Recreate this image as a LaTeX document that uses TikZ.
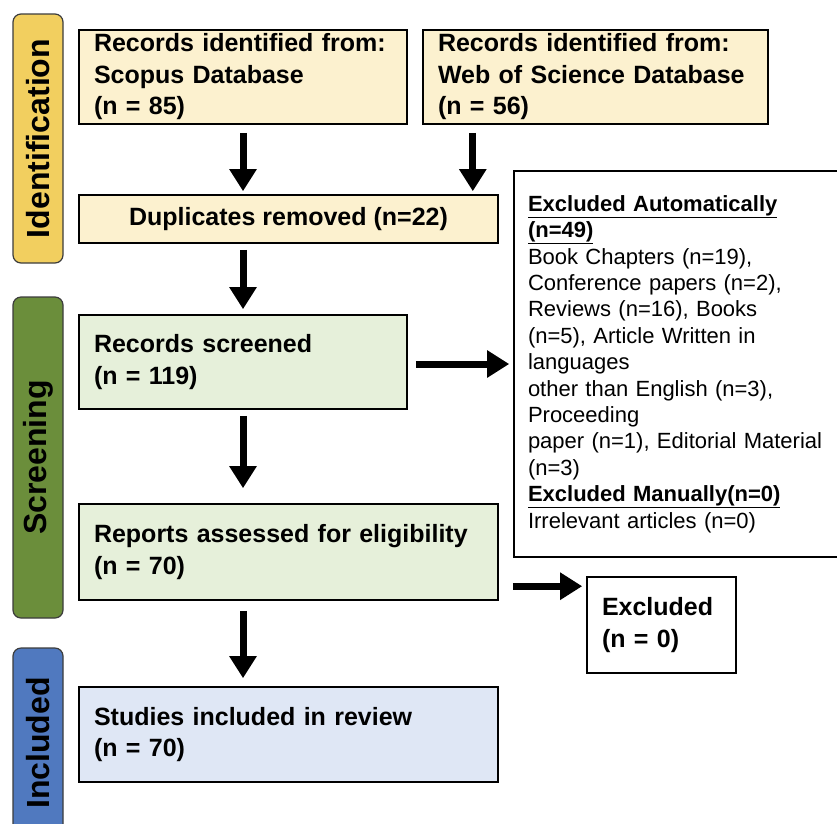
\documentclass[tikz,border=0pt]{standalone}
\usepackage{fontspec}
\setmainfont{Liberation Sans}
\usetikzlibrary{arrows.meta}

\definecolor{idgold}{HTML}{F2CF5F}
\definecolor{scrgreen}{HTML}{6B8E3B}
\definecolor{incblue}{HTML}{5079BF}
\definecolor{idfill}{HTML}{FCF1CF}
\definecolor{scrfill}{HTML}{E6F0DA}
\definecolor{incfill}{HTML}{DFE7F5}
\definecolor{phaseline}{HTML}{3C3C3C}

\newcommand{\boxfont}{\fontsize{25}{31.5}\selectfont\bfseries}
\newcommand{\listfont}{\fontsize{22}{26.4}\selectfont}

\begin{document}
\begin{tikzpicture}
[x=1pt, y=-1pt,
 every node/.style={inner sep=0pt},
 phase/.style={draw=phaseline, line width=1.2pt, rounded corners=8pt, rotate=90,
   minimum height=50pt, font=\fontsize{32}{38}\selectfont\bfseries},
 stagebox/.style={draw=black, line width=1.6pt, inner xsep=15pt, align=left, font=\boxfont},
 arr/.style={line width=7pt, -{Triangle[length=22pt, width=26pt]}, color=black}]
\useasboundingbox (0,0) rectangle (837,823);
% phase labels
\node (ident) [phase, fill=idgold, minimum width=249pt] at (38, 138.5) {Identification};
\node (screen) [phase, fill=scrgreen, minimum width=321pt] at (38, 457.5) {Screening};
\node (incl) [phase, fill=incblue, minimum width=190pt] at (38, 743) {Included};
% stage boxes
\node (scopus) [stagebox, fill=idfill, minimum width=328pt, minimum height=94pt, text width=298pt] at (243, 77) {Records identified from:\\Scopus Database\\(n = 85)};
\node (wos) [stagebox, fill=idfill, minimum width=345pt, minimum height=94pt, text width=315pt] at (595.5, 77) {Records identified from:\\Web of Science Database\\(n = 56)};
\node (dup) [stagebox, fill=idfill, minimum width=419pt, minimum height=48pt, align=center] at (288.5, 219) {Duplicates removed (n=22)};
\node (screened) [stagebox, fill=scrfill, minimum width=328pt, minimum height=94pt, text width=298pt] at (243, 362) {Records screened\\(n = 119)};
\node (reports) [stagebox, fill=scrfill, minimum width=419pt, minimum height=96pt, text width=389pt] at (288.5, 552) {Reports assessed for eligibility\\(n = 70)};
\node (studies) [stagebox, fill=incfill, minimum width=419pt, minimum height=95pt, text width=389pt] at (288.5, 734.5) {Studies included in review\\(n = 70)};
% exclusions
\node (exauto) [stagebox, fill=white, inner xsep=14pt, minimum width=350pt, minimum height=386pt, text width=322pt, font=\listfont] at (689, 364) {\underline{\textbf{Excluded Automatically}}\\
\underline{\textbf{(n=49)}}\\
Book Chapters (n=19),\\
Conference papers (n=2),\\
Reviews (n=16), Books\\
(n=5), Article Written in\\
languages\\
other than English (n=3),\\
Proceeding\\
paper (n=1), Editorial Material\\
(n=3)\\
\underline{\textbf{Excluded Manually(n=0)}}\\
Irrelevant articles (n=0)};
\node (excl) [stagebox, fill=white, minimum width=149pt, minimum height=96pt, text width=119pt] at (661.5, 625) {Excluded\\(n = 0)};
% arrows
\path (dup.north east) ++(-26,0) coordinate (wosin);
\path (excl.north west) ++(0,10) coordinate (exin);
\draw [arr, shorten <=8pt, shorten >=3pt] (scopus.south) to (scopus.south |- dup.north);
\draw [arr, shorten <=8pt, shorten >=3pt] (wos.south -| wosin) to (wosin);
\draw [arr, shorten <=6pt, shorten >=5pt] (scopus.south |- dup.south) to (scopus.south |- screened.north);
\draw [arr, shorten <=6pt, shorten >=15pt] (screened.south) to (screened.south |- reports.north);
\draw [arr, shorten <=10pt, shorten >=8pt] (screened.south |- reports.south) to (screened.south |- studies.north);
\draw [arr, shorten <=8pt, shorten >=4pt] ([yshift=-2pt]screened.east) to ([yshift=-2pt]screened.east -| exauto.west);
\draw [arr, shorten <=14pt, shorten >=4pt] (exin -| reports.east) to (exin);
\end{tikzpicture}
\end{document}
